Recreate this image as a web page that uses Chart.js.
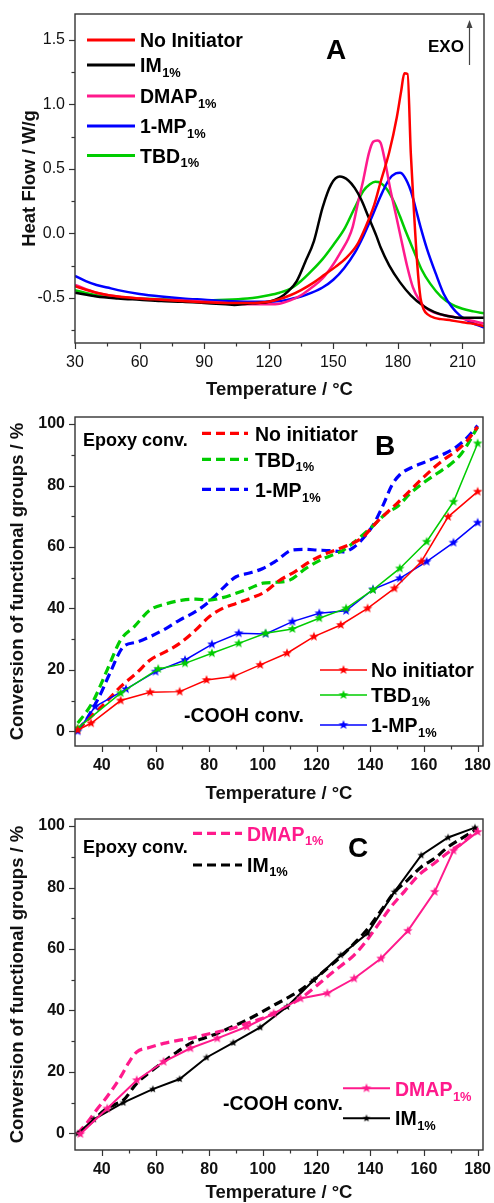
<!DOCTYPE html>
<html>
<head>
<meta charset="utf-8">
<script src="https://cdn.jsdelivr.net/npm/chart.js@4.4.1/dist/chart.umd.min.js"></script>
<style>
  html, body { margin: 0; padding: 0; background: #fff; }
  body { width: 494px; height: 1203px; position: relative; overflow: hidden; }
  canvas { position: absolute; left: 0; }
</style>
</head>
<body>
<canvas id="dsc" width="494" height="405" style="top:0px"></canvas>
<canvas id="convB" width="494" height="402" style="top:405px"></canvas>
<canvas id="convC" width="494" height="398" style="top:805px"></canvas>
<script>
// ---------- A: DSC heat flow curves ----------
const dscTempNoInit = [30,40,50,60,70,80,90,100,110,120,125,130,135,141,146,151,156,161,165,169,172,176,179.5,181.5,183,184.5,186,187.5,189,190.5,192,194,197,200,205,210,215,220];
const dscFlowNoInit = [-0.41,-0.46,-0.49,-0.505,-0.515,-0.525,-0.535,-0.54,-0.54,-0.53,-0.51,-0.48,-0.44,-0.38,-0.32,-0.26,-0.19,-0.09,0.05,0.22,0.40,0.63,0.90,1.10,1.24,1.235,0.62,0.16,-0.24,-0.50,-0.59,-0.63,-0.655,-0.665,-0.675,-0.69,-0.70,-0.72];

const dscTempIM = [30,40,50,60,70,80,90,100,104,110,115,120,125,129,133,137,141,145,149,153,157,160,163,166.5,170,172,176,181,186,192,197,203,210,220];
const dscFlowIM = [-0.46,-0.49,-0.505,-0.515,-0.525,-0.53,-0.54,-0.55,-0.555,-0.545,-0.54,-0.53,-0.50,-0.45,-0.37,-0.22,-0.06,0.20,0.38,0.44,0.41,0.35,0.26,0.12,-0.02,-0.11,-0.25,-0.38,-0.48,-0.565,-0.61,-0.64,-0.655,-0.655];

const dscTempDMAP = [30,40,50,60,70,80,90,100,110,120,125,130,135,140,145,150,154,157,159,161.5,164,166.5,168.5,170.5,172,174,176.5,179,181.2,184.3,187,190,193,197,200,205,210,215,220];
const dscFlowDMAP = [-0.40,-0.46,-0.49,-0.505,-0.515,-0.52,-0.53,-0.54,-0.55,-0.55,-0.545,-0.52,-0.48,-0.42,-0.35,-0.24,-0.13,-0.04,0.05,0.24,0.42,0.62,0.71,0.72,0.70,0.56,0.34,0.15,-0.02,-0.255,-0.42,-0.52,-0.58,-0.615,-0.63,-0.645,-0.66,-0.68,-0.70];

const dscTempMP = [30,35,40,45,50,60,70,80,90,100,110,120,125,130,135,140,145,150,155,160,164,168,172,176,179,181,183,186,188,190.5,193.5,198,201.3,205,209,214,220];
const dscFlowMP = [-0.33,-0.37,-0.40,-0.42,-0.44,-0.47,-0.49,-0.505,-0.515,-0.525,-0.53,-0.53,-0.525,-0.51,-0.49,-0.46,-0.42,-0.36,-0.27,-0.15,-0.02,0.13,0.29,0.42,0.465,0.47,0.44,0.33,0.21,0.05,-0.12,-0.33,-0.47,-0.57,-0.64,-0.69,-0.73];

const dscTempTBD = [30,40,50,60,70,80,90,100,110,115,120,125,130,135,140,145,150,155,160,164,167,169.5,172,175,178,181,184,187.5,191,195,200,205,210,215,220];
const dscFlowTBD = [-0.44,-0.48,-0.495,-0.505,-0.51,-0.515,-0.52,-0.515,-0.505,-0.495,-0.48,-0.46,-0.43,-0.37,-0.29,-0.20,-0.09,0.03,0.20,0.33,0.38,0.40,0.39,0.34,0.25,0.13,0.0,-0.14,-0.28,-0.39,-0.49,-0.55,-0.585,-0.605,-0.62];

const dscTempTicks = [30,60,90,120,150,180,210];
const dscTempMinor = [45,75,105,135,165,195];
const dscFlowTicks = [-0.5,0,0.5,1.0,1.5];
const dscFlowMinor = [-0.75,-0.25,0.25,0.75,1.25];

// ---------- B: conversion, no initiator / TBD / 1-MP ----------
const tempEpoxyNoInit = [31,36,41,47,53,58,64,69,75,80,85,90,96,101,106,112,118,124,131,137,142,146,150,155,160,164,168,172,176,180];
const epoxyNoInit     = [0.4,4.8,9,14.5,19,23.2,26,28.6,33,37.3,40,41.6,43.5,45.5,49,52,55.5,58,60.3,63,67.7,71,74.2,78.5,82.8,86,88.8,91.2,94.5,99.1];
const tempEpoxyTBD = [31,34,37,42,47,52,58,64,70,75,80,85,90,95,100,105,110,116,122,130,136,142,146,150,155,160,165,170,174,180];
const epoxyTBD     = [2.7,6,10.2,20,29.7,34,39.5,41.5,42.7,43,42.7,43.5,44.9,46.5,48.2,48.5,49.2,53,56,59,63,67.7,71,73.1,77.5,81,84,87,90.4,99];
const tempEpoxyMP = [31,34,37,40,43,48,53,58,64,69,75,80,85,90,95,100,105,111,116,120,125,130,134,138,141,145,148,151,155,160,164,168,172,176,180];
const epoxyMP     = [0.4,3.5,8,13,18.9,27.5,29,30.8,33.5,36.2,39,42.2,46.5,50.3,51.5,53,55.5,59,59.2,59,58.8,58.4,60,63.5,67,74,80,83.5,85.7,87.5,89,90.5,92.5,95.5,99.5];

const tempCoohNoInit = [31,36,47,58,69,79,89,99,109,119,129,139,149,159,169,180];
const coohNoInit     = [0.4,2.6,10,12.7,12.9,16.7,17.8,21.6,25.4,30.8,34.6,40,46.5,55.2,69.8,78];
const tempCoohTBD = [31,47,61,71,81,91,101,111,121,131,141,151,161,171,180];
const coohTBD     = [1,12.4,20.3,22.1,25.4,28.6,31.9,33.3,36.8,40,46,53,61.7,74.7,93.7];
const tempCoohMP = [31,37.5,49,60,71,81,91,101,111,121,131,141,151,161,171,180];
const coohMP     = [0,8,13.7,19.4,23.2,28.3,31.9,31.7,35.7,38.4,39.2,46.2,49.8,55.2,61.4,67.9];

// ---------- C: conversion, DMAP / IM ----------
const tempEpoxyDMAP = [31,35,38,42,47,50,53,58,63,68,73,78,83,88,94,99,104,109,114,119,124,129,134,138,143,148,153,158,164,170,175,180];
const epoxyDMAP     = [0,4,7.6,12,18.4,23,26.5,28,29.3,30.2,30.9,32,33,34,35.8,37.2,39,41.3,43.9,47.3,51,54.5,58,62,68,74,79,84,88,92,95,99.5];
const tempEpoxyIM = [31,36,41,45,48,53,58,63,68,73,78,83,88,94,99,104,109,114,119,124,129,134,139,145,149,154,159,164,169,174,180];
const epoxyIM     = [0,3.5,7.6,9.5,10.8,16.3,20,23.3,26.5,29.3,31,32.5,34.5,36.9,39.2,41.7,44,46.6,50,53.7,57.5,61.8,66.5,73.7,78.5,82.5,86.7,89.5,93.2,96,99.2];

const tempCoohDMAP = [32,42,53,63,73,83,94,104,114,124,134,144,154,164,171,180];
const coohDMAP     = [-0.2,8.1,17.3,23.3,27.7,30.9,34.7,39,43.9,45.6,50.4,56.9,65.9,78.6,92,98.1];
const tempCoohIM = [31,37,48,59,69,79,89,99,109,119,129,139,149,159,169,179];
const coohIM     = [0,4.6,10,14.4,17.7,24.7,29.5,34.5,41.2,49.9,58,65.1,78.6,90.5,96.3,99.5];

const convTempTicks = [40,60,80,100,120,140,160,180];
const convTempMinor = [50,70,90,110,130,150,170];
const convTicks = [0,20,40,60,80,100];
const convMinor = [10,30,50,70,90];

// ---------- styling ----------
const FONT = "'Liberation Sans', Arial, Helvetica, sans-serif";
const RED = '#ff0000', BLACK = '#000000', PINK = '#ff1a8c', BLUE = '#0000ff', GREEN = '#00cc00';
const AXIS = '#333333';
Chart.defaults.font.family = FONT;

const xy = (xs, ys) => xs.map((x, i) => ({ x: x, y: ys[i] }));

// filled five-pointed star used as point marker
function starMarker(color, r) {
  const s = Math.ceil(2 * r + 2);
  const c = document.createElement('canvas');
  c.width = s; c.height = s;
  const g = c.getContext('2d');
  g.fillStyle = color;
  g.beginPath();
  for (let k = 0; k < 10; k++) {
    const rad = k % 2 === 0 ? r : r * 0.42;
    const a = -Math.PI / 2 + k * Math.PI / 5;
    const px = s / 2 + rad * Math.cos(a), py = s / 2 + rad * Math.sin(a);
    if (k === 0) g.moveTo(px, py); else g.lineTo(px, py);
  }
  g.closePath();
  g.fill();
  return c;
}

// box around the plot plus outward major/minor tick marks
function framePlugin(t) {
  return {
    id: 'frame',
    afterDraw(chart) {
      const { ctx, chartArea: a, scales } = chart;
      ctx.save();
      ctx.strokeStyle = AXIS;
      ctx.lineWidth = 1.4;
      ctx.strokeRect(a.left, a.top, a.right - a.left, a.bottom - a.top);
      const tx = (vals, len) => vals.forEach(v => {
        const p = Math.round(scales.x.getPixelForValue(v)) + 0.5;
        ctx.beginPath(); ctx.moveTo(p, a.bottom); ctx.lineTo(p, a.bottom + len); ctx.stroke();
      });
      const ty = (vals, len) => vals.forEach(v => {
        const p = Math.round(scales.y.getPixelForValue(v)) + 0.5;
        ctx.beginPath(); ctx.moveTo(a.left, p); ctx.lineTo(a.left - len, p); ctx.stroke();
      });
      ctx.lineWidth = 1.2;
      tx(t.xMajor, 6); tx(t.xMinor, 3.5);
      ty(t.yMajor, 6); ty(t.yMinor, 3.5);
      ctx.restore();
    }
  };
}

// legends, panel letters and notes
function notesPlugin(items) {
  return {
    id: 'notes',
    afterDraw(chart) {
      const ctx = chart.ctx;
      items.forEach(it => {
        ctx.save();
        if (it.key !== undefined) {
          const ds = chart.data.datasets[it.key];
          ctx.strokeStyle = ds.borderColor;
          ctx.lineWidth = it.width || ds.borderWidth;
          ctx.setLineDash(ds.borderDash || []);
          ctx.beginPath(); ctx.moveTo(it.x1, it.y); ctx.lineTo(it.x2, it.y); ctx.stroke();
          const m = ds.pointStyle;
          if (m && typeof m === 'object') {
            ctx.drawImage(m, (it.x1 + it.x2) / 2 - m.width / 2, it.y - m.height / 2);
          }
        } else if (it.arrow) {
          ctx.strokeStyle = '#444'; ctx.fillStyle = '#444'; ctx.lineWidth = 1.2;
          ctx.beginPath(); ctx.moveTo(it.x, it.y2); ctx.lineTo(it.x, it.y1 + 6); ctx.stroke();
          ctx.beginPath(); ctx.moveTo(it.x, it.y1); ctx.lineTo(it.x - 3, it.y1 + 8); ctx.lineTo(it.x + 3, it.y1 + 8); ctx.closePath(); ctx.fill();
        } else {
          ctx.fillStyle = it.color || '#000';
          ctx.textBaseline = 'alphabetic';
          ctx.textAlign = it.align || 'left';
          ctx.font = 'bold ' + it.size + 'px ' + FONT;
          ctx.fillText(it.text, it.x, it.y);
          if (it.sub) {
            const w = ctx.measureText(it.text).width;
            ctx.textAlign = 'left';
            ctx.font = 'bold ' + (it.size * 0.66) + 'px ' + FONT;
            ctx.fillText(it.sub, it.x + w + 0.5, it.y + it.size * 0.24);
          }
        }
        ctx.restore();
      });
    }
  };
}

function xScale(min, max, ticks, font, pb, h) {
  return {
    type: 'linear', min: min, max: max,
    grid: { display: false, drawTicks: false },
    border: { display: false },
    ticks: { font: font, color: '#111', padding: 10, autoSkip: false, maxRotation: 0, callback: v => String(v) },
    afterBuildTicks: s => { s.ticks = ticks.map(v => ({ value: v })); },
    afterFit: s => { s.height = h; s.paddingLeft = 0; s.paddingRight = 0; },
    title: { display: true, text: 'Temperature / °C', color: '#111',
             font: { family: FONT, size: 18.5, weight: 'bold', lineHeight: 1 },
             padding: { top: 0, bottom: pb } }
  };
}

function yScale(min, max, ticks, font, fmt, title, pt) {
  return {
    type: 'linear', min: min, max: max,
    grid: { display: false, drawTicks: false },
    border: { display: false },
    ticks: { font: font, color: '#111', padding: 10, callback: fmt },
    afterBuildTicks: s => { s.ticks = ticks.map(v => ({ value: v })); },
    afterFit: s => { s.width = 75; s.paddingTop = 0; s.paddingBottom = 0; },
    title: { display: true, text: title, color: '#111',
             font: { family: FONT, size: 18.5, weight: 'bold', lineHeight: 1 },
             padding: { top: pt, bottom: 0 } }
  };
}

function baseOptions(padding, x, y) {
  return {
    responsive: false, animation: false, devicePixelRatio: 1, events: [],
    layout: { padding: padding },
    plugins: { legend: { display: false }, tooltip: { enabled: false } },
    scales: { x: x, y: y }
  };
}

const curve = (label, xs, ys, color) => ({
  label: label, data: xy(xs, ys), borderColor: color, borderWidth: 2.5,
  pointRadius: 0, cubicInterpolationMode: 'monotone', fill: false
});
const dashed = (label, xs, ys, color) => ({
  label: label, data: xy(xs, ys), borderColor: color, borderWidth: 3.2, borderDash: [9, 5],
  pointRadius: 0, cubicInterpolationMode: 'monotone', fill: false
});
const starred = (label, xs, ys, color, w, r) => ({
  label: label, data: xy(xs, ys), borderColor: color, borderWidth: w, tension: 0,
  pointStyle: starMarker(color, r), pointRadius: 5, fill: false
});

const normal16 = { family: FONT, size: 16, weight: 'normal' };
const bold16 = { family: FONT, size: 16, weight: 'bold' };

// ---------- Panel A ----------
new Chart(document.getElementById('dsc'), {
  type: 'line',
  data: { datasets: [
    curve('No Initiator', dscTempNoInit, dscFlowNoInit, RED),
    curve('IM1%', dscTempIM, dscFlowIM, BLACK),
    curve('DMAP1%', dscTempDMAP, dscFlowDMAP, PINK),
    curve('1-MP1%', dscTempMP, dscFlowMP, BLUE),
    curve('TBD1%', dscTempTBD, dscFlowTBD, GREEN)
  ] },
  options: baseOptions({ left: 0, right: 10, top: 14, bottom: 0 },
    xScale(30, 220, dscTempTicks, normal16, 5.75, 62),
    yScale(-0.85, 1.7, dscFlowTicks, normal16, v => v.toFixed(1), 'Heat Flow / W/g', 20.25)),
  plugins: [
    framePlugin({ xMajor: dscTempTicks, xMinor: dscTempMinor, yMajor: dscFlowTicks, yMinor: dscFlowMinor }),
    notesPlugin([
      { key: 0, x1: 87, x2: 135, y: 40, width: 3 },
      { key: 1, x1: 87, x2: 135, y: 65, width: 3 },
      { key: 2, x1: 87, x2: 135, y: 96, width: 3 },
      { key: 3, x1: 87, x2: 135, y: 126, width: 3 },
      { key: 4, x1: 87, x2: 135, y: 155.5, width: 3 },
      { text: 'No Initiator', x: 140, y: 47, size: 19.5 },
      { text: 'IM', sub: '1%', x: 140, y: 72, size: 19.5 },
      { text: 'DMAP', sub: '1%', x: 140, y: 103, size: 19.5 },
      { text: '1-MP', sub: '1%', x: 140, y: 133, size: 19.5 },
      { text: 'TBD', sub: '1%', x: 140, y: 162.5, size: 19.5 },
      { text: 'A', x: 336, y: 58.5, size: 28, align: 'center' },
      { text: 'EXO', x: 428, y: 51.5, size: 17 },
      { arrow: true, x: 469.5, y1: 20, y2: 65 }
    ])
  ]
});

// ---------- Panel B ----------
new Chart(document.getElementById('convB'), {
  type: 'line',
  data: { datasets: [
    starred('No initiator', tempCoohNoInit, coohNoInit, RED, 1.5, 5),
    starred('TBD1%', tempCoohTBD, coohTBD, GREEN, 1.5, 5),
    starred('1-MP1%', tempCoohMP, coohMP, BLUE, 1.5, 5),
    dashed('No initiator', tempEpoxyNoInit, epoxyNoInit, RED),
    dashed('TBD1%', tempEpoxyTBD, epoxyTBD, GREEN),
    dashed('1-MP1%', tempEpoxyMP, epoxyMP, BLUE)
  ] },
  options: baseOptions({ left: 0, right: 11, top: 12, bottom: 0 },
    xScale(30, 182, convTempTicks, bold16, 3.75, 61),
    yScale(-4.8, 102.3, convTicks, bold16, v => String(v), 'Conversion of functional groups / %', 9)),
  plugins: [
    framePlugin({ xMajor: convTempTicks, xMinor: convTempMinor, yMajor: convTicks, yMinor: convMinor }),
    notesPlugin([
      { text: 'Epoxy conv.', x: 83, y: 41, size: 18 },
      { key: 3, x1: 202, x2: 248, y: 28.3 },
      { key: 4, x1: 202, x2: 248, y: 54.3 },
      { key: 5, x1: 202, x2: 248, y: 84.3 },
      { text: 'No initiator', x: 255, y: 35.7, size: 19.5 },
      { text: 'TBD', sub: '1%', x: 255, y: 61.7, size: 19.5 },
      { text: '1-MP', sub: '1%', x: 255, y: 92, size: 19.5 },
      { text: 'B', x: 385, y: 50, size: 28, align: 'center' },
      { key: 0, x1: 320, x2: 367, y: 265 },
      { key: 1, x1: 320, x2: 367, y: 290 },
      { key: 2, x1: 320, x2: 367, y: 320 },
      { text: 'No initiator', x: 371, y: 272.3, size: 19.5 },
      { text: 'TBD', sub: '1%', x: 371, y: 296.7, size: 19.5 },
      { text: '1-MP', sub: '1%', x: 371, y: 327.3, size: 19.5 },
      { text: '-COOH conv.', x: 184, y: 316.7, size: 19.5 }
    ])
  ]
});

// ---------- Panel C ----------
new Chart(document.getElementById('convC'), {
  type: 'line',
  data: { datasets: [
    starred('DMAP1%', tempCoohDMAP, coohDMAP, PINK, 2, 5),
    starred('IM1%', tempCoohIM, coohIM, BLACK, 2, 4),
    dashed('DMAP1%', tempEpoxyDMAP, epoxyDMAP, PINK),
    dashed('IM1%', tempEpoxyIM, epoxyIM, BLACK)
  ] },
  options: baseOptions({ left: 0, right: 11, top: 14, bottom: 0 },
    xScale(30, 182, convTempTicks, bold16, 0.75, 53),
    yScale(-5.4, 102.3, convTicks, bold16, v => String(v), 'Conversion of functional groups / %', 9)),
  plugins: [
    framePlugin({ xMajor: convTempTicks, xMinor: convTempMinor, yMajor: convTicks, yMinor: convMinor }),
    notesPlugin([
      { text: 'Epoxy conv.', x: 83, y: 47.7, size: 18 },
      { key: 2, x1: 193, x2: 242, y: 28.3 },
      { key: 3, x1: 193, x2: 242, y: 60 },
      { text: 'DMAP', sub: '1%', x: 247, y: 35.7, size: 19.5, color: PINK },
      { text: 'IM', sub: '1%', x: 247, y: 66.7, size: 19.5 },
      { text: 'C', x: 358, y: 52.3, size: 28, align: 'center' },
      { key: 0, x1: 343, x2: 390, y: 283.3 },
      { key: 1, x1: 343, x2: 390, y: 313.3 },
      { text: 'DMAP', sub: '1%', x: 395, y: 291, size: 19.5, color: PINK },
      { text: 'IM', sub: '1%', x: 395, y: 320, size: 19.5 },
      { text: '-COOH conv.', x: 223, y: 305, size: 19.5 }
    ])
  ]
});
</script>
</body>
</html>
